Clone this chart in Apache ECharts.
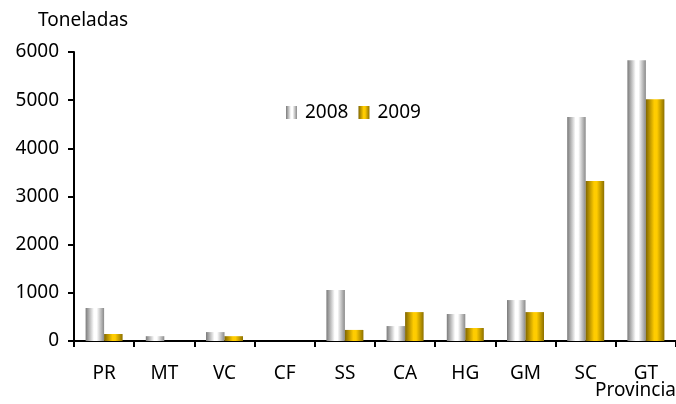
<!DOCTYPE html>
<html>
<head>
<meta charset="utf-8">
<script src="https://cdn.jsdelivr.net/npm/echarts@6/dist/echarts.min.js"></script>
<style>html,body{margin:0;padding:0;background:#fff}#c{width:676px;height:404px}</style>
</head>
<body>
<div id="c"></div>
<script>
var categories = ['PR','MT','VC','CF','SS','CA','HG','GM','SC','GT'];
var values2008 = [685, 100, 185, 0, 1060, 310, 560, 850, 4650, 5830];
var values2009 = [145, 0, 100, 0, 230, 600, 270, 600, 3320, 5020];
var yTicks = [0, 1000, 2000, 3000, 4000, 5000, 6000];
var seriesNames = ['2008', '2009'];
var yAxisTitle = 'Toneladas';
var xAxisTitle = 'Provincia';

var FONT = 'Noto Sans';
var FS = 19;
function grad(dark, light, mid) {
  return new echarts.graphic.LinearGradient(0, 0, 1, 0, [
    {offset: 0, color: dark},
    {offset: 0.45, color: light},
    {offset: 0.6, color: light},
    {offset: 1, color: mid}
  ]);
}
var chart = echarts.init(document.getElementById('c'));
chart.setOption({
  animation: false,
  backgroundColor: '#fff',
  textStyle: {fontFamily: FONT},
  grid: {left: 74, right: 0, top: 52, bottom: 63},
  graphic: [
    {type: 'text', left: 38, top: 11, style: {text: yAxisTitle, font: FS + 'px ' + FONT, fill: '#000'}},
    {type: 'text', right: 0, top: 381, style: {text: xAxisTitle, font: FS + 'px ' + FONT, fill: '#000'}}
  ],
  legend: {
    data: seriesNames,
    icon: 'rect',
    left: 281, top: 98,
    itemWidth: 11, itemHeight: 13, itemGap: 10,
    textStyle: {fontSize: FS, color: '#000', fontFamily: FONT, padding: [0, 0, 0, 3]}
  },
  xAxis: {
    type: 'category',
    data: categories,
    axisLine: {lineStyle: {color: '#000', width: 2}},
    axisTick: {show: true, length: 6, lineStyle: {color: '#000', width: 2}},
    axisLabel: {fontSize: FS, color: '#000', margin: 23}
  },
  yAxis: {
    type: 'value',
    min: 0, max: 6000, interval: 1000,
    axisLine: {show: true, lineStyle: {color: '#000', width: 2}},
    axisTick: {show: true, length: 6, lineStyle: {color: '#000', width: 2}},
    axisLabel: {fontSize: FS, color: '#000', margin: 15,
      formatter: function (v) { return yTicks.indexOf(v) >= 0 ? String(v) : ''; }},
    splitLine: {show: false}
  },
  series: [
    {name: seriesNames[0], type: 'bar', data: values2008, barWidth: 18.5, barGap: '0%',
      itemStyle: {color: grad('#7a7a7a', '#ffffff', '#8a8a8a')}},
    {name: seriesNames[1], type: 'bar', data: values2009, barWidth: 18.5, barGap: '0%',
      itemStyle: {color: grad('#806600', '#ffcc00', '#8c7000')}}
  ]
});
</script>
</body>
</html>
